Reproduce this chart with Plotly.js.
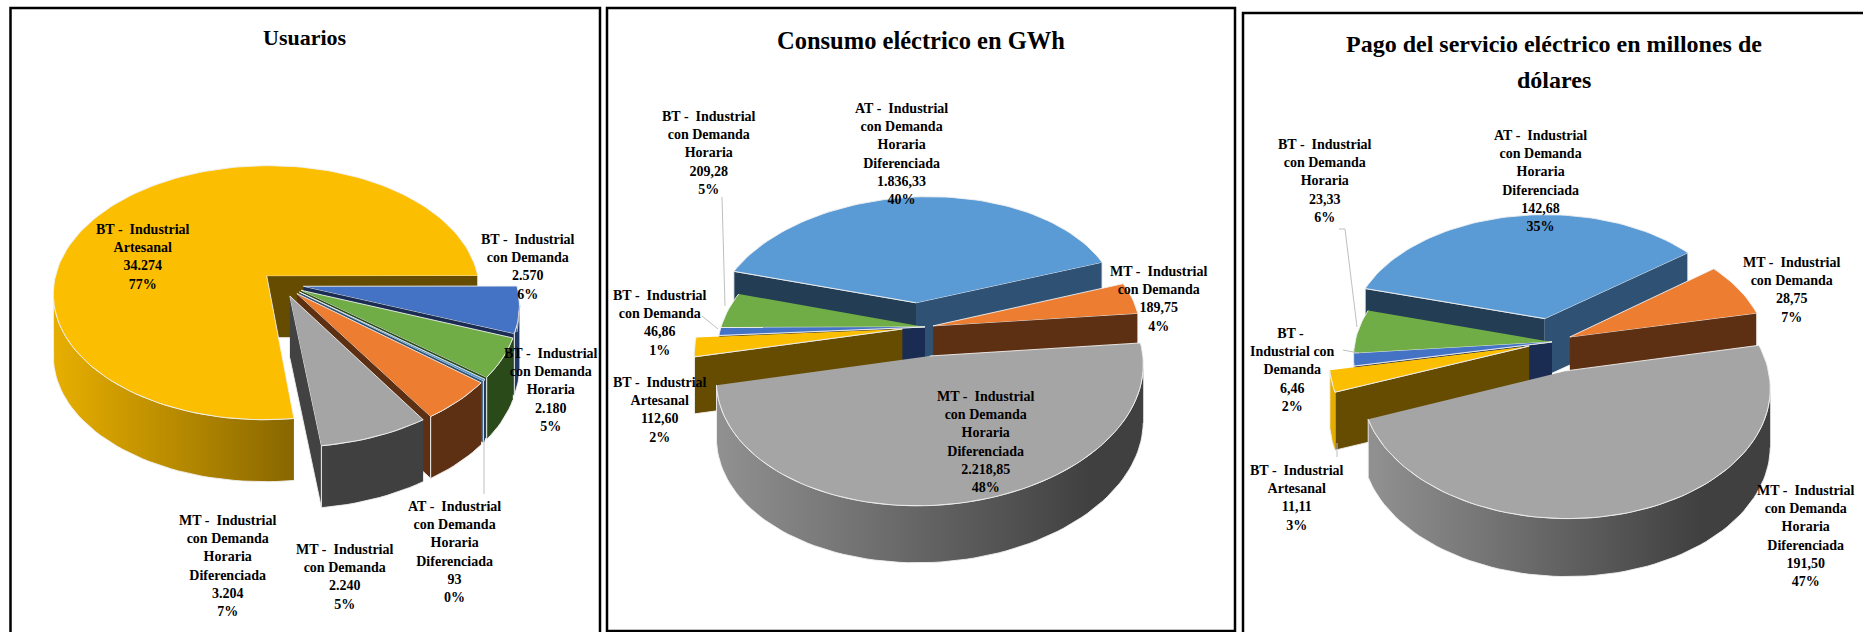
<!DOCTYPE html>
<html><head><meta charset="utf-8">
<script src="https://cdn.plot.ly/plotly-3.0.1.min.js"></script>
<style>html,body{margin:0;padding:0;background:#fff;overflow:hidden}#g{width:1863px;height:632px}</style>
</head><body><div id="g"></div>
<script>
// ---------- data ----------
const usuarios = [34274, 2570, 2180, 93, 2240, 3204];
const consumo  = [112.60, 46.86, 209.28, 1836.33, 189.75, 2218.85];
const pago     = [11.11, 6.46, 23.33, 142.68, 28.75, 191.50];

const labelsUsuarios = ["BT -  Industrial<br>Artesanal","BT -  Industrial<br>con Demanda","BT -  Industrial<br>con Demanda<br>Horaria","AT -  Industrial<br>con Demanda<br>Horaria<br>Diferenciada","MT -  Industrial<br>con Demanda","MT -  Industrial<br>con Demanda<br>Horaria<br>Diferenciada"];
const labelsConsumo  = labelsUsuarios;
const labelsPago     = ["BT -  Industrial<br>Artesanal","BT - <br>Industrial con<br>Demanda","BT -  Industrial<br>con Demanda<br>Horaria","AT -  Industrial<br>con Demanda<br>Horaria<br>Diferenciada","MT -  Industrial<br>con Demanda","MT -  Industrial<br>con Demanda<br>Horaria<br>Diferenciada"];

const titleUsuarios = ["Usuarios"];
const titleConsumo  = ["Consumo eléctrico en GWh"];
const titlePago     = ["Pago del servicio eléctrico en millones de","dólares"];

// ---------- styles ----------
const topColors  = ["#FCBE00","#4472C4","#70AD47","#5B9BD5","#ED7D31","#A5A5A5"];
const wallLight  = ["#E5AD00","#2F5597","#385723","#2F5274","#5E3013","#909090"];
const wallDark   = ["#7A5C00","#1F3864","#2A4A1A","#223D55","#5E3013","#404040"];
const faceStart  = ["#664C00","#1A2C52","#2A4A1A","#233D55","#5E3013","#424242"];
const faceEnd    = ["#664C00","#1A2C52","#2A4A1A","#2F5274","#5E3013","#424242"];

const FONT = "Liberation Serif";

const panels = [
 {values:usuarios, labels:labelsUsuarios, decimals:0, title:titleUsuarios, titleAt:[[305,37]], titleSize:22,
  xr:[0,604], cx:282.5, cy:284, rx:213, ry:127, p:0.135, tilt:0, depth:62, start:-83,
  pull:[0.1,0.1,0.1,0.1,0.1,0.1], nudge:[0,0,0,0,0,0],
  labelAt:[[143,257],[527.6,267],[551,390],[454,552],[344,577],[227,566]],
  grad:[60,330],
  leaders:[[[484,440],[484,494]],[[520,305],[517,332]]]},
 {values:consumo, labels:labelsConsumo, decimals:2, title:titleConsumo, titleAt:[[921,40]], titleSize:24.5,
  xr:[604,1239], cx:925, cy:327, rx:206, ry:124, p:0.12, tilt:8, depth:57, start:-171,
  pull:[0.11,0,0,0.2,0.04,0.23], nudge:[0,0,0,-10,0,0],
  labelAt:[[660,410],[660,322.6],[708.6,153],[901,154],[1158,299],[985,441.5]],
  grad:[722,1090],
  leaders:[[[722,197],[725,306]],[[702,316],[718,329]]]},
 {values:pago, labels:labelsPago, decimals:2, title:titlePago, titleAt:[[1554,44],[1554,80]], titleSize:24,
  xr:[1239,1863], cx:1552, cy:342, rx:197, ry:122, p:0.122, tilt:0, depth:58, start:-159,
  pull:[0.12,0,0,0.2,0.1,0.24], nudge:[0,0,0,0,0,0],
  labelAt:[[1297,498],[1292.6,370],[1325,180.6],[1540.5,180.6],[1791,290],[1805,536]],
  grad:[1375,1700],
  leaders:[[[1339,229],[1345,229],[1357,327]],[[1343,350],[1359,353]],[[1337,443],[1337,457]]]}
];

function fmt(v,dec){
  const s=v.toFixed(dec).split('.');
  s[0]=s[0].replace(/\B(?=(\d{3})+(?!\d))/g,'.');
  return s.join(',');
}

const traces=[], annotations=[], shapes=[];

panels.forEach((P,pi)=>{
  const xa = pi? 'x'+(pi+1):'x', ya = pi? 'y'+(pi+1):'y';
  const total = P.values.reduce((a,b)=>a+b,0);
  let a=P.start;
  const slices=P.values.map((v,i)=>{
    const sweep=v/total*360, s={i,a0:a,a1:a-sweep,mid:a-sweep/2};
    a-=sweep; return s;
  });
  const rad=d=>d*Math.PI/180;
  const poly=(pts,color,grad)=>{
    const t={type:'scatter',mode:'lines',xaxis:xa,yaxis:ya,showlegend:false,hoverinfo:'skip',
      x:pts.map(q=>q[0]),y:pts.map(q=>q[1]),fill:'toself',
      line:{color:'rgba(240,240,240,0.9)',width:1}};
    if(grad) t.fillgradient=grad; else t.fillcolor=color;
    traces.push(t);
  };
  slices.slice().sort((A,B)=>Math.sin(rad(B.mid))-Math.sin(rad(A.mid))).forEach(s=>{
    const proj=(X,Y,drop)=>{
      const w=1+P.p*Y;
      return [P.cx+P.nudge[s.i]+P.rx*X/w, P.cy-P.ry*Y/w-P.tilt*X/w+(drop?P.depth:0)];
    };
    const q=P.pull[s.i], ox=q*Math.cos(rad(s.mid)), oy=q*Math.sin(rad(s.mid));
    const n=Math.max(3,Math.ceil((s.a0-s.a1)/2));
    const arc=[], front=[];
    for(let k=0;k<=n;k++){
      const d=s.a0+(s.a1-s.a0)*k/n, t=rad(d), c=[ox+Math.cos(t),oy+Math.sin(t)];
      arc.push(c);
      if(Math.sin(t)<=-P.p) front.push(c);   // only the wall inside the silhouette tangents
    }
    const A=[ox,oy], e0=arc[0], e1=arc[arc.length-1];
    // radial cut faces, only those that face the viewer
    if(Math.cos(rad(s.a0))<0)
      poly([proj(A[0],A[1]),proj(e0[0],e0[1]),proj(e0[0],e0[1],1),proj(A[0],A[1],1)],faceStart[s.i]);
    if(Math.cos(rad(s.a1))>0)
      poly([proj(A[0],A[1]),proj(e1[0],e1[1]),proj(e1[0],e1[1],1),proj(A[0],A[1],1)],faceEnd[s.i]);
    // outer wall
    if(front.length>1){
      const wall=front.map(c=>proj(c[0],c[1])).concat(front.slice().reverse().map(c=>proj(c[0],c[1],1)));
      poly(wall,null,{type:'horizontal',start:P.grad[0],stop:P.grad[1],
        colorscale:[[0,wallLight[s.i]],[1,wallDark[s.i]]]});
    }
    // top surface
    poly([proj(A[0],A[1])].concat(arc.map(c=>proj(c[0],c[1]))),topColors[s.i]);
  });
  // labels
  P.values.forEach((v,i)=>{
    annotations.push({xref:xa,yref:ya,x:P.labelAt[i][0],y:P.labelAt[i][1],showarrow:false,
      xanchor:'center',yanchor:'middle',align:'center',
      font:{family:FONT,size:14,color:'#000'},
      text:'<b>'+P.labels[i].split('<br>').join('</b><br><b>')+'</b><br><b>'+fmt(v,P.decimals)+'</b><br><b>'+Math.round(v/total*100)+'%</b>'});
  });
  P.title.forEach((line,i)=>annotations.push({xref:xa,yref:ya,x:P.titleAt[i][0],y:P.titleAt[i][1],showarrow:false,
    xanchor:'center',yanchor:'middle',align:'center',
    font:{family:FONT,size:P.titleSize,color:'#000'},
    text:'<b>'+line+'</b>'}));
  P.leaders.forEach(L=>{
    for(let k=0;k<L.length-1;k++) shapes.push({type:'line',xref:xa,yref:ya,layer:'above',
      x0:L[k][0],y0:L[k][1],x1:L[k+1][0],y1:L[k+1][1],line:{color:'#BFBFBF',width:1}});
  });
});

// frames, in page pixels
const frames=[[10.5,8,600,660],[607,8,1235,631],[1243,13,1880,660]];
frames.forEach(f=>shapes.push({type:'rect',xref:'paper',yref:'paper',layer:'above',
  x0:f[0]/1863,x1:f[2]/1863,y0:1-f[1]/632,y1:1-f[3]/632,line:{color:'#000',width:2.5},fillcolor:'rgba(0,0,0,0)'}));

const layout={width:1863,height:632,margin:{l:0,r:0,t:0,b:0},paper_bgcolor:'#fff',plot_bgcolor:'#fff',
  showlegend:false,annotations,shapes,hovermode:false};
panels.forEach((P,i)=>{
  const k=i?String(i+1):'';
  layout['xaxis'+k]={domain:[P.xr[0]/1863,P.xr[1]/1863],range:P.xr,visible:false,fixedrange:true,anchor:'y'+k};
  layout['yaxis'+k]={domain:[0,1],range:[632,0],visible:false,fixedrange:true,anchor:'x'+k};
});
Plotly.newPlot('g',traces,layout,{displayModeBar:false,staticPlot:true});
</script></body></html>
